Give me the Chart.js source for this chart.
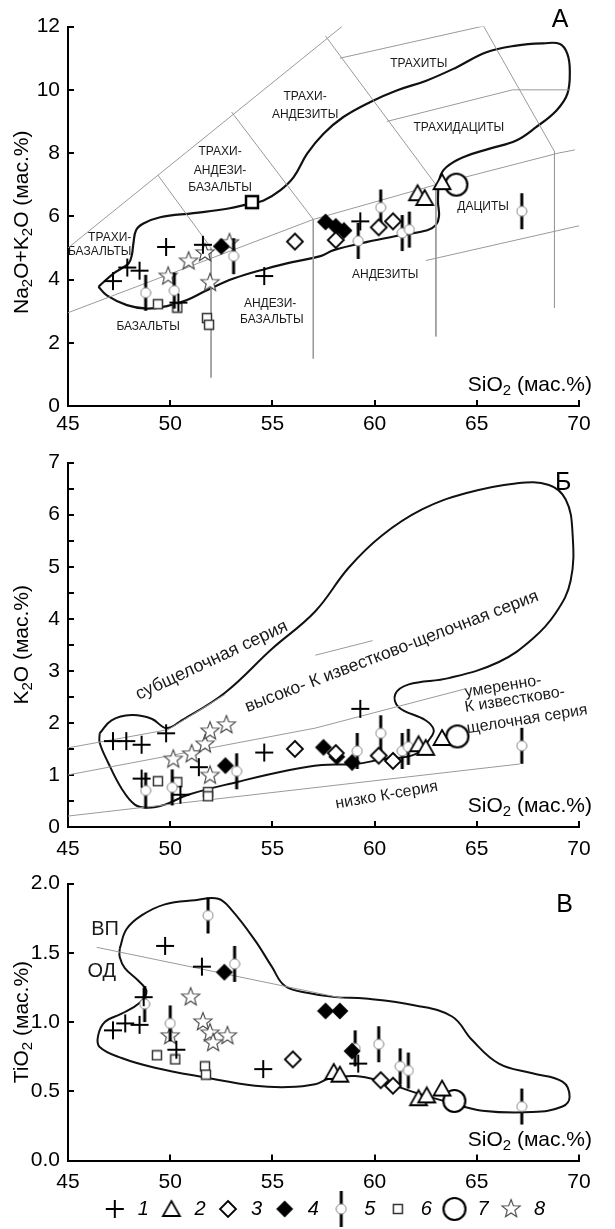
<!DOCTYPE html>
<html>
<head>
<meta charset="utf-8">
<script src="https://cdn.jsdelivr.net/npm/chart.js@4.4.1/dist/chart.umd.min.js"></script>
<style>
html, body { margin: 0; padding: 0; background: #fff; }
#wrap { position: relative; width: 615px; height: 1229px; overflow: hidden; }
canvas { position: absolute; left: 0; }
</style>
</head>
<body>
<div id="wrap">
  <canvas id="chartA" width="615" height="436" style="top:0px"></canvas>
  <canvas id="chartB" width="615" height="421" style="top:436px"></canvas>
  <canvas id="chartC" width="615" height="372" style="top:857px"></canvas>
</div>
<script>
// ---- panel A: SiO2 vs Na2O+K2O ----
var tasPlus = [[47.2,3.95],[47.9,4.38],[48.5,4.28],[49.8,5.03],[50.4,3.27],[51.6,5.1],[54.6,4.11],[59.3,5.84]];
var tasTri = [[62.1,6.73],[62.45,6.58],[63.3,7.08]];
var tasDiam = [[56.1,5.2],[58.1,5.25],[60.2,5.65],[60.9,5.84]];
var tasDiamFill = [[52.5,5.05],[57.6,5.82],[58.1,5.68],[58.5,5.55]];
var tasCirc = [[48.8,3.58],[50.2,3.65],[53.1,4.74],[59.2,5.22],[60.3,6.28],[61.35,5.47],[61.7,5.58],[67.2,6.16]];
var tasSq = [[49.4,3.22],[50.35,3.11],[51.8,2.78],[51.9,2.57]];
var tasSqBold = [[54.0,6.45]];
var tasBig = [[64.0,7.0]];
var tasStar = [[49.9,4.1],[50.9,4.58],[51.7,4.84],[52.9,5.16],[51.95,3.9]];
var tasFields = [
    [[45,5.0],[58.4,12.0]],
    [[49.4,7.3],[52,5.0],[52,0.9]],
    [[53,9.3],[57,5.9],[57,1.5]],
    [[57.6,11.7],[63,7.0],[63,2.2]],
    [[45,2.95],[57,5.9],[63,7.0],[69,8.0],[69.8,8.1]],
    [[58.3,11.0],[65.9,12.1]],
    [[65.3,12.05],[68.8,8.05],[68.8,3.1]],
    [[60.6,9.0],[66.75,10.0],[69.5,10.0]],
    [[62.5,4.6],[70,5.7]]
];
var tasOutline = [[46.49,3.77],[46.9,3.5],[47.88,3.19],[48.86,3.08],[49.84,3.16],[50.82,3.35],[51.8,3.66],[53.1,4.03],
    [54.74,4.35],[56.04,4.56],[57.35,4.74],[58.0,4.93],[59.64,5.19],[61.27,5.4],[62.58,5.56],[62.99,5.72],[63.15,6.0],
    [63.1,6.5],[63.2,7.24],[63.52,7.56],[64.33,7.87],[65.63,8.14],[66.93,8.4],[67.9,8.82],[68.9,9.35],[69.43,9.87],
    [69.55,10.61],[69.43,11.14],[69.07,11.45],[68.25,11.47],[66.93,11.4],[65.47,11.19],[64.0,10.71],[62.53,10.29],
    [61.08,9.98],[59.77,9.61],[58.47,9.14],[57.5,8.61],[56.7,7.98],[56.04,7.24],[55.38,6.82],[54.57,6.5],[53.92,6.4],
    [52.78,6.24],[51.14,6.1],[49.51,5.97],[48.69,5.77],[48.33,5.56],[48.2,5.14],[48.12,4.77],[47.96,4.51],[47.22,4.19],[46.49,3.77]];
var tasNames = [
    ['ТРАХИ-',56.6,9.79],['АНДЕЗИТЫ',56.6,9.22],
    ['ТРАХИ-',52.44,8.03],['АНДЕЗИ-',52.44,7.45],['БАЗАЛЬТЫ',52.44,6.92],
    ['ТРАХИТЫ',62.16,10.82],['ТРАХИДАЦИТЫ',64.12,8.8],['ДАЦИТЫ',65.31,6.29],['АНДЕЗИТЫ',60.52,4.14],
    ['ТРАХИ-',47.04,5.33],['БАЗАЛЬТЫ',46.55,4.87],['БАЗАЛЬТЫ',48.92,2.5],
    ['АНДЕЗИ-',54.89,3.24],['БАЗАЛЬТЫ',54.97,2.72]
];

// ---- panel Б: SiO2 vs K2O ----
var kPlus = [[47.2,1.65],[47.85,1.65],[48.6,1.58],[49.8,1.8],[48.6,0.93],[50.5,0.62],[51.4,1.15],[54.6,1.43],[59.3,2.27]];
var kTri = [[62.15,1.59],[62.5,1.52],[63.3,1.71]];
var kDiam = [[56.1,1.5],[58.1,1.42],[60.2,1.37],[60.9,1.27]];
var kDiamFill = [[52.7,1.18],[57.5,1.53],[58.15,1.35],[58.9,1.24]];
var kCirc = [[48.8,0.7],[50.1,0.76],[53.25,1.07],[59.15,1.46],[60.3,1.8],[61.35,1.46],[61.65,1.54],[67.2,1.56]];
var kSq = [[49.4,0.88],[50.35,0.86],[51.85,0.67],[51.85,0.59]];
var kBig = [[64.05,1.74]];
var kStar = [[50.15,1.3],[51.05,1.4],[51.7,1.59],[51.95,1.84],[52.75,1.96],[51.95,0.99]];
var kSeries = [
    [[45,0.21],[67.1,1.21]],
    [[45,1.0],[57.1,1.9],[64.5,2.66]],
    [[45,1.52],[49.9,1.87],[52.7,2.55]],
    [[57.1,3.3],[59.9,3.58]]
];
var kOutline = [[46.55,1.8],[47.13,2.05],[48.1,2.15],[49.09,2.08],[49.82,1.9],[50.56,2.05],[52.68,2.58],[54.97,3.42],
    [57.09,4.14],[58.73,4.98],[60.36,5.6],[62.32,6.1],[64.45,6.41],[66.9,6.6],[68.53,6.57],[69.35,6.29],[69.68,5.67],
    [69.59,4.73],[68.86,4.11],[67.72,3.61],[66.08,3.17],[63.63,2.86],[61.67,2.74],[61.01,2.55],[61.18,2.3],[62.49,2.05],
    [62.89,1.87],[62.73,1.71],[62.0,1.4],[60.36,1.3],[59.05,1.21],[57.42,1.19],[55.78,1.09],[53.33,0.87],[50.88,0.62],
    [49.74,0.43],[48.92,0.37],[48.27,0.43],[47.62,0.74],[46.96,1.24],[46.55,1.62],[46.55,1.8]];

// ---- panel В: SiO2 vs TiO2 ----
var tiPlus = [[47.2,0.94],[47.8,0.99],[48.5,0.98],[48.7,1.18],[49.75,1.55],[50.3,0.8],[51.55,1.4],[54.55,0.66],[59.2,0.7]];
var tiTri = [[58.0,0.64],[58.3,0.62],[62.15,0.45],[62.55,0.47],[63.3,0.52]];
var tiDiam = [[56.0,0.73],[60.3,0.58],[60.9,0.54]];
var tiDiamFill = [[52.65,1.36],[57.6,1.08],[58.3,1.08],[58.9,0.79]];
var tiCirc = [[48.75,1.13],[50.0,0.99],[51.85,1.77],[53.15,1.42],[59.05,0.81],[60.2,0.84],[61.25,0.68],[61.65,0.65],[67.2,0.39]];
var tiSq = [[49.35,0.76],[50.25,0.73],[51.7,0.68],[51.75,0.62]];
var tiBig = [[63.9,0.43]];
var tiStar = [[51.0,1.18],[50.0,0.9],[51.6,1.0],[51.95,0.92],[52.1,0.85],[52.8,0.9]];
var tiDivide = [[46.4,1.54],[58.5,1.17]];
var tiOutline = [[47.53,1.53],[47.86,1.67],[48.6,1.77],[49.74,1.85],[51.21,1.88],[52.35,1.89],[53.0,1.81],[54.15,1.59],
    [54.97,1.4],[55.62,1.26],[56.76,1.21],[58.07,1.18],[59.54,1.17],[61.99,1.12],[63.79,1.04],[64.77,0.87],[66.08,0.7],
    [67.72,0.63],[69.19,0.57],[69.54,0.46],[69.19,0.39],[67.72,0.35],[65.27,0.36],[63.63,0.42],[61.99,0.49],[60.36,0.57],
    [59.05,0.61],[57.75,0.59],[57.09,0.55],[55.78,0.53],[54.15,0.54],[51.7,0.6],[49.25,0.67],[47.62,0.74],[46.55,0.82],
    [46.47,0.9],[46.8,1.0],[47.62,1.06],[48.51,1.14],[48.84,1.22],[48.43,1.3],[47.78,1.39],[47.53,1.47],[47.53,1.53]];

var legendNames = ['1','2','3','4','5','6','7','8'];

var FONT = '"Liberation Sans", Arial, sans-serif';
Chart.defaults.font.family = FONT;
Chart.defaults.color = '#000';

// marker pictures
function pic(w, h, draw) {
    var c = document.createElement('canvas');
    c.width = w; c.height = h;
    var g = c.getContext('2d');
    g.translate(w / 2, h / 2);
    draw(g);
    return c;
}
var icon = {
    plus: pic(20, 20, function(g) {
        g.strokeStyle = '#000'; g.lineWidth = 2;
        g.beginPath(); g.moveTo(-9, 0); g.lineTo(9, 0); g.moveTo(0, -9); g.lineTo(0, 9); g.stroke();
    }),
    tri: pic(22, 20, function(g) {
        g.strokeStyle = '#000'; g.lineWidth = 1.8; g.fillStyle = '#fff';
        g.beginPath(); g.moveTo(0, -8); g.lineTo(8.5, 7); g.lineTo(-8.5, 7); g.closePath(); g.fill(); g.stroke();
    }),
    diam: pic(20, 20, function(g) {
        g.strokeStyle = '#000'; g.lineWidth = 1.8; g.fillStyle = '#fff';
        g.beginPath(); g.moveTo(0, -8); g.lineTo(8, 0); g.lineTo(0, 8); g.lineTo(-8, 0); g.closePath(); g.fill(); g.stroke();
    }),
    diamFill: pic(20, 20, function(g) {
        g.fillStyle = '#000';
        g.beginPath(); g.moveTo(0, -8.5); g.lineTo(8.5, 0); g.lineTo(0, 8.5); g.lineTo(-8.5, 0); g.closePath(); g.fill();
    }),
    circ: pic(12, 40, function(g) {
        g.strokeStyle = '#000'; g.lineWidth = 3;
        g.beginPath(); g.moveTo(0, -18); g.lineTo(0, 18); g.stroke();
        g.fillStyle = '#fff'; g.strokeStyle = '#888'; g.lineWidth = 1;
        g.beginPath(); g.arc(0, 0, 5, 0, 2 * Math.PI); g.fill(); g.stroke();
    }),
    sq: pic(12, 12, function(g) {
        g.strokeStyle = '#333'; g.lineWidth = 1.5; g.fillStyle = '#fff';
        g.fillRect(-4.5, -4.5, 9, 9); g.strokeRect(-4.5, -4.5, 9, 9);
    }),
    sqBold: pic(18, 18, function(g) {
        g.strokeStyle = '#000'; g.lineWidth = 2.5; g.fillStyle = '#fff';
        g.fillRect(-6, -6, 12, 12); g.strokeRect(-6, -6, 12, 12);
    }),
    big: pic(28, 28, function(g) {
        g.strokeStyle = '#000'; g.lineWidth = 2.2; g.fillStyle = '#fff';
        g.beginPath(); g.arc(0, 0, 11, 0, 2 * Math.PI); g.fill(); g.stroke();
    }),
    star: pic(24, 24, function(g) {
        g.strokeStyle = '#444'; g.lineWidth = 1.1; g.fillStyle = '#fff';
        g.beginPath();
        for (var i = 0; i < 10; i++) {
            var r = i % 2 ? 4 : 9.5;
            var a = -Math.PI / 2 + i * Math.PI / 5;
            g.lineTo(r * Math.cos(a), r * Math.sin(a));
        }
        g.closePath(); g.fill(); g.stroke();
    })
};

function pts(arr) {
    return arr.map(function(p) { return {x: p[0], y: p[1]}; });
}
function marks(label, arr, style, order) {
    return {label: label, data: pts(arr), pointStyle: style, pointRadius: 6, showLine: false, order: order};
}
function line(arr, color, width, tension) {
    return {label: '', data: pts(arr), showLine: true, borderColor: color, borderWidth: width,
        pointRadius: 0, tension: tension, fill: false, order: 50};
}
function markerSets(p, t, d, df, c, s, b, st) {
    return [
        marks(legendNames[0], p, icon.plus, 1),
        marks(legendNames[1], t, icon.tri, 2),
        marks(legendNames[2], d, icon.diam, 3),
        marks(legendNames[3], df, icon.diamFill, 4),
        marks(legendNames[4], c, icon.circ, 5),
        marks(legendNames[5], s, icon.sq, 6),
        marks(legendNames[6], b, icon.big, 7),
        marks(legendNames[7], st, icon.star, 8)
    ];
}

// text with a subscript part
function rich(g, segs, x, y, size, align) {
    var sub = Math.round(size * 0.7), w = 0;
    segs.forEach(function(s) { g.font = (s[1] ? sub : size) + 'px ' + FONT; w += g.measureText(s[0]).width; });
    var cx = align == 'right' ? x - w : (align == 'center' ? x - w / 2 : x);
    g.textAlign = 'left'; g.textBaseline = 'alphabetic';
    segs.forEach(function(s) {
        g.font = (s[1] ? sub : size) + 'px ' + FONT;
        g.fillText(s[0], cx, y + (s[1] ? size * 0.2 : 0));
        cx += g.measureText(s[0]).width;
    });
}

var notes = {
    id: 'notes',
    beforeDatasetsDraw: function(chart, args, opts) {
        var g = chart.ctx, xs = chart.scales.x, ys = chart.scales.y, a = chart.chartArea;
        g.save();
        g.fillStyle = '#1a1a1a';
        (opts.items || []).forEach(function(it) {
            g.save();
            g.translate(xs.getPixelForValue(it[1]), ys.getPixelForValue(it[2]));
            g.rotate((it[4] || 0) * Math.PI / 180);
            g.font = it[3] + 'px ' + FONT;
            g.textAlign = it[5] || 'center';
            g.textBaseline = it[5] ? 'alphabetic' : 'middle';
            g.fillText(it[0], 0, 0);
            g.restore();
        });
        g.fillStyle = '#000';
        rich(g, [['SiO', 0], ['2', 1], [' (мас.%)', 0]], a.right + 13, a.bottom - 15, 21, 'right');
        g.save();
        g.translate(22, (a.top + a.bottom) / 2 + (opts.titleShift || 0));
        g.rotate(-Math.PI / 2);
        rich(g, opts.ytitle, 0, 6, 21, 'center');
        g.restore();
        g.font = '25px ' + FONT; g.textAlign = 'center'; g.textBaseline = 'middle';
        g.fillText(opts.letter[0], xs.getPixelForValue(opts.letter[1]), ys.getPixelForValue(opts.letter[2]));
        g.restore();
    }
};

function xAxis(pad, h) {
    return {
        type: 'linear', min: 45, max: 70,
        ticks: {stepSize: 5, padding: pad, font: {size: 21}, maxRotation: 0, autoSkip: false},
        grid: {drawOnChartArea: false, tickLength: -6, color: '#000', lineWidth: 2},
        border: {color: '#000', width: 2},
        afterFit: function(s) { s.height = h; }
    };
}
function yAxis(max, step, cb) {
    return {
        type: 'linear', min: 0, max: max,
        ticks: {stepSize: step, padding: 14, font: {size: 21}, autoSkip: false, callback: cb},
        grid: {drawOnChartArea: false, tickLength: -6, color: '#000', lineWidth: 2},
        border: {color: '#000', width: 2},
        afterFit: function(s) { s.width = 68; }
    };
}
function baseOptions(padTop, xs, ys, noteOpts) {
    return {
        responsive: false, animation: false,
        layout: {padding: {top: padTop, right: 36, left: 0, bottom: 0}},
        scales: {x: xs, y: ys},
        plugins: {legend: {display: false}, tooltip: {enabled: false}, notes: noteOpts}
    };
}

// panel A
var dsA = markerSets(tasPlus, tasTri, tasDiam, tasDiamFill, tasCirc, tasSq, tasBig, tasStar);
dsA.push(marks('', tasSqBold, icon.sqBold, 6));
tasFields.forEach(function(f) { dsA.push(line(f, '#9a9a9a', 1, 0)); });
dsA.push(line(tasOutline, '#111', 2.2, 0.4));
new Chart(document.getElementById('chartA'), {
    type: 'scatter',
    data: {datasets: dsA},
    options: baseOptions(26, xAxis(12, 30), yAxis(12, 2), {
        items: tasNames.map(function(n) { return [n[0], n[1], n[2], 12]; }),
        ytitle: [['Na', 0], ['2', 1], ['O+K', 0], ['2', 1], ['O (мас.%)', 0]],
        titleShift: 6,
        letter: ['А', 69.07, 12.22]
    }),
    plugins: [notes]
});

// panel Б
var dsB = markerSets(kPlus, kTri, kDiam, kDiamFill, kCirc, kSq, kBig, kStar);
kSeries.forEach(function(f) { dsB.push(line(f, '#9a9a9a', 1, 0)); });
dsB.push(line(kOutline, '#111', 2, 0.4));
new Chart(document.getElementById('chartB'), {
    type: 'scatter',
    data: {datasets: dsB},
    options: baseOptions(15.5, xAxis(16, 30), yAxis(7, 0.5, function(v) { return Number.isInteger(v) ? v : ''; }), {
        items: [
            ['субщелочная серия', 52.03, 3.2, 18, -25],
            ['высоко- К известково-щелочная серия', 60.84, 3.37, 17.5, -21],
            ['умеренно-', 64.45, 2.5, 16, -9, 'left'],
            ['К известково-', 64.45, 2.21, 16, -9, 'left'],
            ['щелочная серия', 64.55, 1.8, 16, -9, 'left'],
            ['низко К-серия', 60.59, 0.61, 16, -10]
        ],
        ytitle: [['K', 0], ['2', 1], ['O (мас.%)', 0]],
        letter: ['Б', 69.23, 6.61]
    }),
    plugins: [notes]
});

// panel В
var dsC = markerSets(tiPlus, tiTri, tiDiam, tiDiamFill, tiCirc, tiSq, tiBig, tiStar);
dsC.push(line(tiDivide, '#9a9a9a', 1, 0));
dsC.push(line(tiOutline, '#111', 2, 0.4));
var optC = baseOptions(26.5, xAxis(15, 29), yAxis(2, 0.5, function(v) { return v.toFixed(1); }), {
    items: [['ВП', 46.81, 1.666, 20], ['ОД', 46.65, 1.364, 20]],
    ytitle: [['TiO', 0], ['2', 1], [' (мас.%)', 0]],
    letter: ['В', 69.3, 1.846]
});
optC.plugins.legend = {
    display: true, position: 'bottom', fullSize: false,
    labels: {
        usePointStyle: true, pointStyleWidth: 26, padding: 9.5, color: '#000',
        font: {size: 20, style: 'italic'},
        filter: function(item) { return legendNames.indexOf(item.text) >= 0; }
    }
};
new Chart(document.getElementById('chartC'), {
    type: 'scatter',
    data: {datasets: dsC},
    options: optC,
    plugins: [notes]
});
</script>
</body>
</html>
